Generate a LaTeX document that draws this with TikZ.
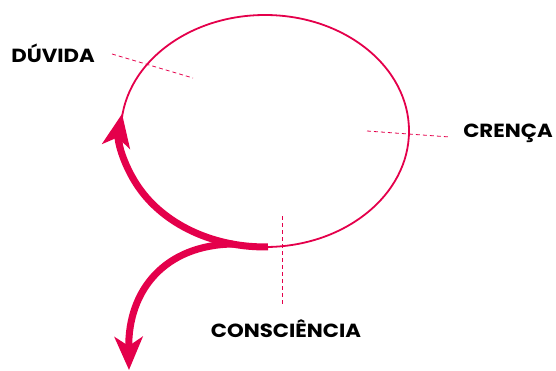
\documentclass[tikz,border=0pt]{standalone}
\usepackage{fontspec}
\setmainfont{Poppins}[FakeStretch=1.12]
\usetikzlibrary{arrows.meta,shapes.geometric}
\definecolor{crim}{RGB}{228,0,75}
\tikzset{
  lbl/.style={font=\fontsize{19}{22}\selectfont\bfseries, text=black, inner sep=0pt},
  guide/.style={draw=crim, dash pattern=on 4pt off 3pt, line width=0.8pt},
  thick arrow/.style={draw=crim, line width=7pt, -{Stealth[length=33pt,width=28pt,inset=9pt]}},
}
\begin{document}
\begin{tikzpicture}[x=1pt,y=-1pt]
\useasboundingbox (0,0) rectangle (556,370);
\node[draw=crim, line width=1.8pt, ellipse, minimum width=288pt, minimum height=232pt, inner sep=0pt] (ell) at (265,131) {};
\coordinate (start) at (268,246.9);
\coordinate (fork) at (233,244);
\coordinate (tipD) at (129,370);
\draw[thick arrow] (start) arc[start angle=88.6, end angle=188.5, x radius=144, y radius=116];
\draw[thick arrow] (fork) .. controls (165,245) and (128,290) .. (tipD);
\node[lbl] (duv) at (53,53) {DÚVIDA};
\node[lbl] (cre) at (508,133) {CRENÇA};
\node[lbl] (con) at (286,329) {CONSCIÊNCIA};
\coordinate (d1) at (112,54); \coordinate (d2) at (193,78);
\coordinate (c1) at (367,131); \coordinate (c2) at (450,137);
\coordinate (k1) at (282,216); \coordinate (k2) at (282,305);
\draw[guide] (d1) -- (d2);
\draw[guide] (c1) -- (c2);
\draw[guide] (k1) -- (k2);
\end{tikzpicture}
\end{document}
